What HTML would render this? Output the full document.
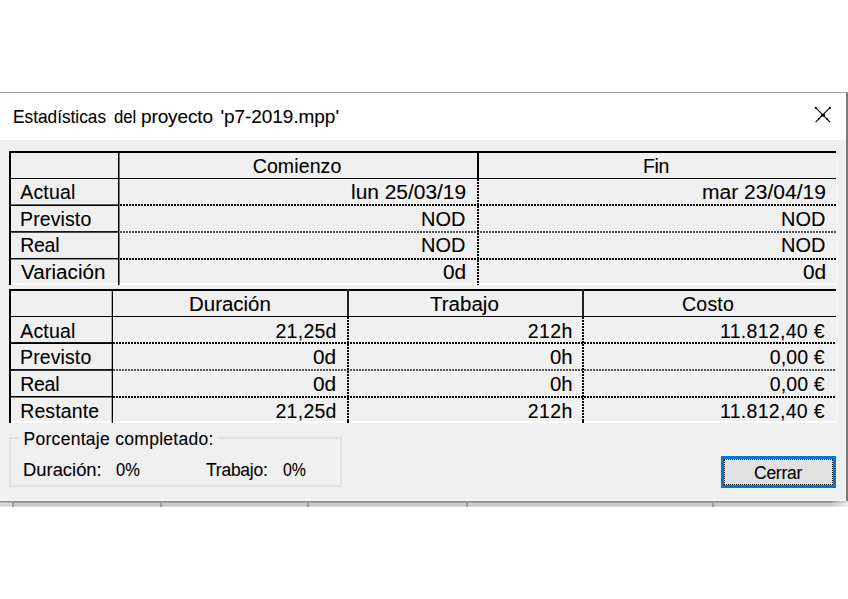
<!DOCTYPE html>
<html><head><meta charset="utf-8"><title>Estadísticas del proyecto</title>
<style>
html,body{margin:0;padding:0;background:#fff;}
body{width:848px;height:599px;position:relative;overflow:hidden;font-family:"Liberation Sans",sans-serif;color:#000;}
.abs{position:absolute;}
.t{position:absolute;white-space:nowrap;line-height:1;-webkit-text-stroke:0.1px #000;}
.hd{background:repeating-linear-gradient(90deg,#000 0,#000 1.7px,transparent 1.7px,transparent 3px);}
.vd{background:repeating-linear-gradient(180deg,#000 0,#000 1.7px,transparent 1.7px,transparent 3px);}
.btnf{box-sizing:border-box;border:1px dotted #000;}
</style></head><body>
<div class="abs" style="left:0px;top:92px;width:848px;height:1px;background:#9c9c9c;"></div>
<div class="abs" style="left:0px;top:93px;width:846px;height:47px;background:#fff;"></div>
<div class="abs" style="left:0px;top:140px;width:846px;height:361px;background:#f0f0f0;"></div>
<div class="abs" style="left:846px;top:93px;width:2px;height:408px;background:#7a7a7a;"></div>
<div class="abs" style="left:0px;top:500px;width:846px;height:1px;background:#f8f8f8;"></div>
<div class="abs" style="left:0px;top:501px;width:848px;height:1px;background:#8a8a8a;"></div>
<div class="abs" style="left:0px;top:502px;width:848px;height:1px;background:#a5a5a5;"></div>
<div class="abs" style="left:0px;top:503px;width:848px;height:3px;background:#c9c9c9;"></div>
<div class="abs" style="left:0px;top:506px;width:848px;height:1px;background:#dadada;"></div>
<div class="abs" style="left:12px;top:502px;width:2px;height:5px;background:#9a9a9a;"></div>
<div class="abs" style="left:160px;top:502px;width:2px;height:5px;background:#9a9a9a;"></div>
<div class="abs" style="left:307px;top:502px;width:2px;height:5px;background:#9a9a9a;"></div>
<div class="abs" style="left:466px;top:502px;width:2px;height:5px;background:#9a9a9a;"></div>
<div class="abs" style="left:712px;top:502px;width:2px;height:5px;background:#9a9a9a;"></div>
<div class="abs" style="left:0px;top:502px;width:12px;height:5px;background:rgba(255,255,255,.25);"></div>
<div class="abs" style="left:830px;top:501px;width:18px;height:6px;background:linear-gradient(90deg,rgba(255,255,255,0),rgba(255,255,255,.7))"></div>
<div class="t" style="left:12.9px;top:105px;font-size:19px;line-height:23px;transform:scaleX(0.9085);transform-origin:0 0;">Estadísticas</div>
<div class="t" style="left:113.6px;top:105px;font-size:19px;line-height:23px;transform:scaleX(0.8784);transform-origin:0 0;">del</div>
<div class="t" style="left:141px;top:105px;font-size:19px;line-height:23px;letter-spacing:-0.12px;">proyecto</div>
<div class="t" style="left:220.5px;top:105px;font-size:19px;line-height:23px;letter-spacing:-0.06px;">'p7-2019.mpp'</div>
<svg class="abs" style="left:810px;top:102px" width="26" height="26" viewBox="0 0 26 26"><path d="M5.6 5.6 L20 20.2 M20 5.6 L5.6 20.2" stroke="#000" stroke-width="1.15" fill="none"/><rect x="11.1" y="12.1" width="3.9" height="2.5" fill="#000"/><circle cx="5.7" cy="5.7" r="1.05"/><circle cx="19.9" cy="5.7" r="1.05"/><circle cx="8.8" cy="16.8" r=".9"/><circle cx="16.8" cy="16.8" r=".9"/></svg>
<div class="abs" style="left:9px;top:283px;width:828px;height:2px;background:#fdfdfd;"></div>
<div class="abs" style="left:9px;top:151px;width:828px;height:2px;background:#000;"></div>
<div class="abs" style="left:9px;top:151px;width:2px;height:134px;background:#000;"></div>
<div class="abs" style="left:118px;top:151px;width:1px;height:134px;background:#000;"></div>
<div class="abs" style="left:119px;top:151px;width:1px;height:134px;background:rgba(0,0,0,.5);"></div>
<div class="abs" style="left:9px;top:178px;width:828px;height:1px;background:#000;"></div>
<div class="abs" style="left:477px;top:151px;width:2px;height:27px;background:#000;"></div>
<div class="abs vd" style="left:477px;top:179px;width:2px;height:106px"></div>
<div class="abs" style="left:9px;top:204px;width:109px;height:1px;background:rgba(0,0,0,0.6);"></div>
<div class="abs" style="left:9px;top:205px;width:109px;height:1px;background:rgba(0,0,0,1);"></div>
<div class="abs hd" style="left:120px;top:204px;width:717px;height:2px"></div>
<div class="abs" style="left:9px;top:231px;width:109px;height:1px;background:rgba(0,0,0,0.9);"></div>
<div class="abs" style="left:9px;top:232px;width:109px;height:1px;background:rgba(0,0,0,0.7);"></div>
<div class="abs hd" style="left:120px;top:231px;width:717px;height:2px;opacity:0.65"></div>
<div class="abs" style="left:9px;top:258px;width:109px;height:1px;background:rgba(0,0,0,1);"></div>
<div class="abs" style="left:9px;top:259px;width:109px;height:1px;background:rgba(0,0,0,0.4);"></div>
<div class="abs hd" style="left:120px;top:258px;width:717px;height:2px"></div>
<div class="abs" style="left:9px;top:289px;width:828px;height:2px;background:#000;"></div>
<div class="abs" style="left:9px;top:421px;width:828px;height:2px;background:#fff;"></div>
<div class="abs" style="left:9px;top:289px;width:2px;height:134px;background:#000;"></div>
<div class="abs" style="left:112px;top:289px;width:1px;height:134px;background:#000;"></div>
<div class="abs" style="left:111px;top:289px;width:1px;height:134px;background:rgba(0,0,0,.3);"></div>
<div class="abs" style="left:9px;top:316px;width:828px;height:1px;background:#000;"></div>
<div class="abs" style="left:347px;top:289px;width:2px;height:27px;background:#222;"></div>
<div class="abs vd" style="left:347px;top:317px;width:2px;height:106px"></div>
<div class="abs" style="left:582px;top:289px;width:2px;height:27px;background:#222;"></div>
<div class="abs vd" style="left:582px;top:317px;width:2px;height:106px"></div>
<div class="abs" style="left:9px;top:342px;width:103px;height:1px;background:rgba(0,0,0,0.9);"></div>
<div class="abs" style="left:9px;top:343px;width:103px;height:1px;background:rgba(0,0,0,1);"></div>
<div class="abs hd" style="left:113px;top:342px;width:724px;height:2px"></div>
<div class="abs" style="left:9px;top:369px;width:103px;height:1px;background:rgba(0,0,0,0.9);"></div>
<div class="abs" style="left:9px;top:370px;width:103px;height:1px;background:rgba(0,0,0,0.8);"></div>
<div class="abs hd" style="left:113px;top:369px;width:724px;height:2px;opacity:0.65"></div>
<div class="abs" style="left:9px;top:396px;width:103px;height:1px;background:rgba(0,0,0,1);"></div>
<div class="abs" style="left:9px;top:397px;width:103px;height:1px;background:rgba(0,0,0,0.5);"></div>
<div class="abs hd" style="left:113px;top:396px;width:724px;height:2px"></div>
<div class="abs vd" style="left:347px;top:421px;width:2px;height:2px"></div>
<div class="abs vd" style="left:582px;top:421px;width:2px;height:2px"></div>
<div class="abs" style="left:836px;top:151px;width:1px;height:272px;background:#f9f9f9;"></div>
<div class="t" style="left:20.2px;top:180px;font-size:19.5px;line-height:24px;letter-spacing:0.19px;">Actual</div>
<div class="t" style="left:20.1px;top:207px;font-size:19.5px;line-height:24px;letter-spacing:0.1px;">Previsto</div>
<div class="t" style="left:20.2px;top:233px;font-size:19.5px;line-height:24px;letter-spacing:-0.26px;">Real</div>
<div class="t" style="left:20.8px;top:260px;font-size:19.5px;line-height:24px;transform:scaleX(1.0569);transform-origin:0 0;">Variación</div>
<div class="t" style="left:252.7px;top:154px;font-size:19.5px;line-height:24px;letter-spacing:0.12px;">Comienzo</div>
<div class="t" style="left:643.0px;top:154px;font-size:19.5px;line-height:24px;letter-spacing:-0.37px;">Fin</div>
<div class="t" style="left:351.4px;top:180px;font-size:19.5px;line-height:24px;transform:scaleX(1.072);transform-origin:0 0;">lun 25/03/19</div>
<div class="t" style="left:421.4px;top:207px;font-size:19.5px;line-height:24px;transform:scaleX(1.0225);transform-origin:0 0;">NOD</div>
<div class="t" style="left:421.4px;top:233px;font-size:19.5px;line-height:24px;transform:scaleX(1.0225);transform-origin:0 0;">NOD</div>
<div class="t" style="left:443.3px;top:260px;font-size:19.5px;line-height:24px;transform:scaleX(1.0698);transform-origin:0 0;">0d</div>
<div class="t" style="left:701.9px;top:180px;font-size:19.5px;line-height:24px;transform:scaleX(1.0791);transform-origin:0 0;">mar 23/04/19</div>
<div class="t" style="left:780.8px;top:207px;font-size:19.5px;line-height:24px;transform:scaleX(1.0225);transform-origin:0 0;">NOD</div>
<div class="t" style="left:780.8px;top:233px;font-size:19.5px;line-height:24px;transform:scaleX(1.0225);transform-origin:0 0;">NOD</div>
<div class="t" style="left:802.7px;top:260px;font-size:19.5px;line-height:24px;transform:scaleX(1.0698);transform-origin:0 0;">0d</div>
<div class="t" style="left:20.2px;top:319px;font-size:19.5px;line-height:24px;letter-spacing:0.19px;">Actual</div>
<div class="t" style="left:20.1px;top:345px;font-size:19.5px;line-height:24px;letter-spacing:0.1px;">Previsto</div>
<div class="t" style="left:20.2px;top:372px;font-size:19.5px;line-height:24px;letter-spacing:-0.26px;">Real</div>
<div class="t" style="left:20.2px;top:399px;font-size:19.5px;line-height:24px;letter-spacing:0.11px;">Restante</div>
<div class="t" style="left:188.5px;top:292px;font-size:19.5px;line-height:24px;transform:scaleX(1.0487);transform-origin:0 0;">Duración</div>
<div class="t" style="left:429.5px;top:292px;font-size:19.5px;line-height:24px;transform:scaleX(1.0527);transform-origin:0 0;">Trabajo</div>
<div class="t" style="left:682.0px;top:292px;font-size:19.5px;line-height:24px;letter-spacing:0.23px;">Costo</div>
<div class="t" style="left:275.5px;top:319px;font-size:19.5px;line-height:24px;letter-spacing:0.26px;">21,25d</div>
<div class="t" style="left:313.3px;top:345px;font-size:19.5px;line-height:24px;transform:scaleX(1.0698);transform-origin:0 0;">0d</div>
<div class="t" style="left:313.3px;top:372px;font-size:19.5px;line-height:24px;transform:scaleX(1.0698);transform-origin:0 0;">0d</div>
<div class="t" style="left:275.5px;top:399px;font-size:19.5px;line-height:24px;letter-spacing:0.26px;">21,25d</div>
<div class="t" style="left:527.7px;top:319px;font-size:19.5px;line-height:24px;letter-spacing:0.41px;">212h</div>
<div class="t" style="left:549.8px;top:345px;font-size:19.5px;line-height:24px;transform:scaleX(1.0434);transform-origin:0 0;">0h</div>
<div class="t" style="left:549.8px;top:372px;font-size:19.5px;line-height:24px;transform:scaleX(1.0434);transform-origin:0 0;">0h</div>
<div class="t" style="left:527.7px;top:399px;font-size:19.5px;line-height:24px;letter-spacing:0.41px;">212h</div>
<div class="t" style="left:720.0px;top:319px;font-size:19.5px;line-height:24px;letter-spacing:0.3px;">11.812,40 €</div>
<div class="t" style="left:769.7px;top:345px;font-size:19.5px;line-height:24px;letter-spacing:0.13px;">0,00 €</div>
<div class="t" style="left:769.7px;top:372px;font-size:19.5px;line-height:24px;letter-spacing:0.13px;">0,00 €</div>
<div class="t" style="left:720.0px;top:399px;font-size:19.5px;line-height:24px;letter-spacing:0.3px;">11.812,40 €</div>
<div class="abs" style="left:9px;top:437px;width:333px;height:50px;border:2px solid #e1e1e1;box-sizing:border-box"></div>
<div class="abs" style="left:19px;top:430px;width:198px;height:16px;background:#f0f0f0;"></div>
<div class="t" style="left:23.5px;top:428px;font-size:17.5px;line-height:22px;letter-spacing:0.29px;">Porcentaje completado:</div>
<div class="t" style="left:23.4px;top:459px;font-size:17.5px;line-height:22px;transform:scaleX(1.0509);transform-origin:0 0;">Duración:</div>
<div class="t" style="left:116.2px;top:459px;font-size:17.5px;line-height:22px;transform:scaleX(0.9401);transform-origin:0 0;">0%</div>
<div class="t" style="left:206px;top:459px;font-size:17.5px;line-height:22px;letter-spacing:-0.24px;">Trabajo:</div>
<div class="t" style="left:283.2px;top:459px;font-size:17.5px;line-height:22px;transform:scaleX(0.9097);transform-origin:0 0;">0%</div>
<div class="abs" style="left:721px;top:456px;width:115px;height:32px;background:#e1e1e1;border:3px solid #0078d7;box-sizing:border-box"></div>
<div class="abs btnf" style="left:724px;top:459px;width:109px;height:26px;"></div>
<div class="t" style="left:754.0px;top:462px;font-size:17.5px;line-height:22px;letter-spacing:-0.25px;">Cerrar</div>
</body></html>
